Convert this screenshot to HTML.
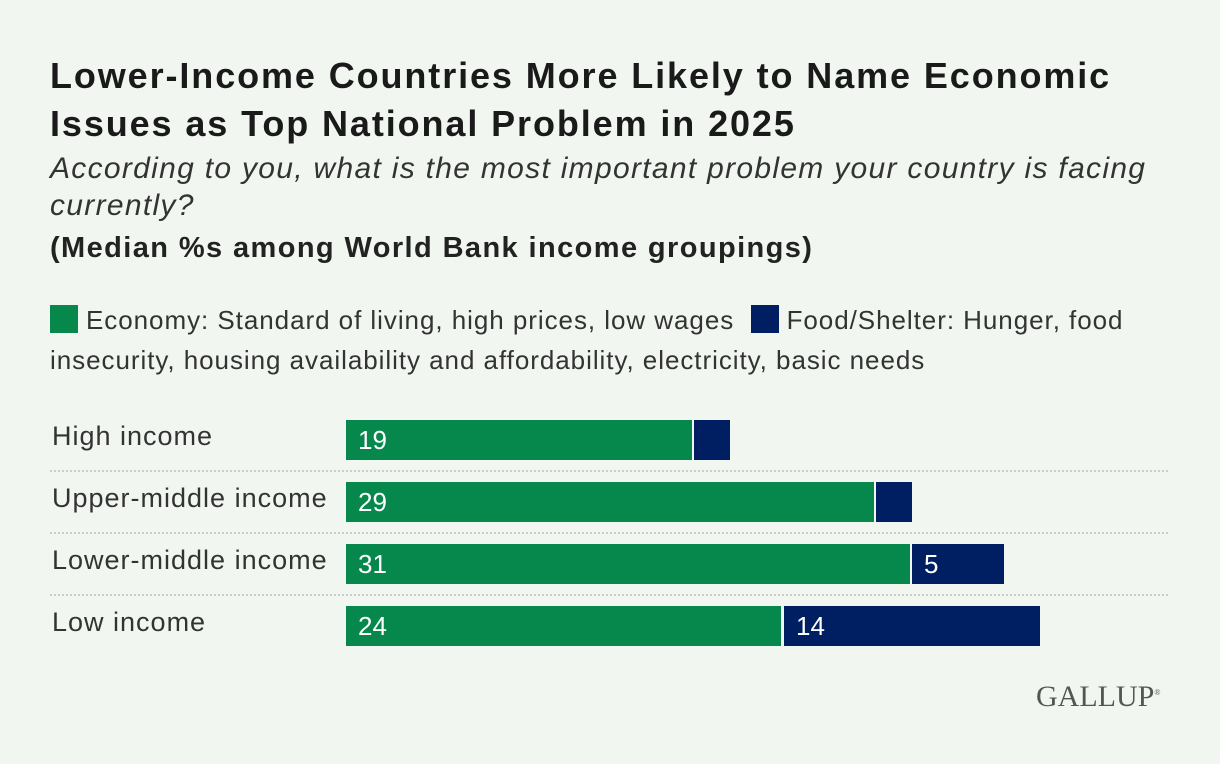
<!DOCTYPE html>
<html><head><meta charset="utf-8"><style>
body{margin:0;width:1220px;height:764px;background:#f1f7f0;font-family:"Liberation Sans",sans-serif;color:#222;position:relative;overflow:hidden}
.a{position:absolute;white-space:nowrap}
.t{left:50px;top:52px;font-size:36px;font-weight:bold;line-height:48px;color:#1a1a1a;letter-spacing:1.9px}
.s{left:50px;top:150px;font-size:30px;font-style:italic;line-height:37px;color:#333;letter-spacing:1.3px}
.m{left:50px;top:232px;font-size:29px;font-weight:bold;color:#222;letter-spacing:1.4px}
.lg{left:50px;top:300px;font-size:26px;line-height:40px;color:#333;letter-spacing:0.95px}
.sw{display:inline-block;width:28px;height:28px;vertical-align:-4px;margin-right:8px}
.lab{left:52px;font-size:27px;color:#333;letter-spacing:1px}
.b{position:absolute;height:40px;color:#fff;font-size:26px;line-height:40px;box-sizing:border-box;padding-left:12px}
.g{background:#06884c}.n{background:#001e62}
.d{position:absolute;left:50px;width:1118px;border-top:2px dotted #ccc}
</style></head><body>
<div class="a t">Lower-Income Countries More Likely to Name Economic<br>Issues as Top National Problem in 2025</div>
<div class="a s">According to you, what is the most important problem your country is facing<br>currently?</div>
<div class="a m">(Median %s among World Bank income groupings)</div>
<div class="a lg"><span class="sw g"></span>Economy: Standard of living, high prices, low wages &nbsp;<span class="sw n"></span>Food/Shelter: Hunger, food<br>insecurity, housing availability and affordability, electricity, basic needs</div>
<div class="a lab" style="top:421px">High income</div>
<div class="a lab" style="top:483px">Upper-middle income</div>
<div class="a lab" style="top:545px">Lower-middle income</div>
<div class="a lab" style="top:607px">Low income</div>
<div class="b g" style="left:346px;top:420px;width:346px">19</div><div class="b n" style="left:694px;top:420px;width:36px"></div>
<div class="b g" style="left:346px;top:482px;width:528px">29</div><div class="b n" style="left:876px;top:482px;width:36px"></div>
<div class="b g" style="left:346px;top:544px;width:564px">31</div><div class="b n" style="left:912px;top:544px;width:92px">5</div>
<div class="b g" style="left:346px;top:606px;width:435px">24</div><div class="b n" style="left:784px;top:606px;width:256px">14</div>
<div class="d" style="top:470px"></div><div class="d" style="top:532px"></div><div class="d" style="top:594px"></div>
<div class="a" style="left:1036px;top:680px;font-family:'Liberation Serif',serif;font-size:30px;color:#555">GALLUP<sup style="font-size:8px">®</sup></div>
</body></html>
